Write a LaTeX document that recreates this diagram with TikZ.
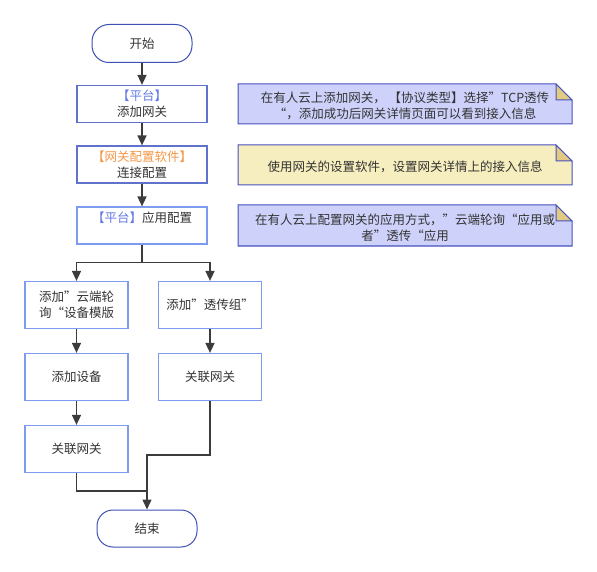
\documentclass[tikz,border=0pt]{standalone}
\usepackage{fontspec}
\setmainfont{Noto Sans CJK SC}
\usepackage{xcolor}
\usepackage{tikz}
\usetikzlibrary{arrows.meta, positioning, calc}

\definecolor{textgray}{RGB}{51,51,51}
\definecolor{linegray}{RGB}{60,60,60}
\definecolor{termblue}{RGB}{60,80,180}
\definecolor{boxblue}{RGB}{95,115,205}
\definecolor{lightblue}{RGB}{125,155,240}
\definecolor{tagblue}{RGB}{100,120,230}
\definecolor{tagorange}{RGB}{245,150,70}
\definecolor{noteline}{RGB}{70,80,190}
\definecolor{notelilac}{RGB}{206,210,250}
\definecolor{noteyellow}{RGB}{246,238,190}
\definecolor{notefold}{RGB}{226,202,130}

\tikzset{
    terminal/.style={draw=termblue, line width=1pt, rounded corners=17pt,
        minimum width=100pt, minimum height=38pt, text=textgray},
    procbox/.style={draw=boxblue, line width=1.2pt, minimum width=130pt,
        minimum height=37pt, align=center, text=textgray, inner sep=2pt},
    subbox/.style={procbox, draw=lightblue, minimum width=103pt, minimum height=47pt},
    flow/.style={draw=linegray, line width=1.5pt, -{Triangle[width=9pt,length=10pt]}},
    link/.style={draw=linegray, line width=1.5pt},
    notecard/.style={draw=noteline, line width=1pt},
    notetext/.style={align=center, text=textgray}
}

\begin{document}
\begin{tikzpicture}[x=1pt, y=-1pt, font=\fontsize{12.5}{16}\selectfont]
    \useasboundingbox (0,0) rectangle (597,572);

    % Main column
    \node[terminal] (start) at (142,43.5) {开始};
    \node[procbox] (addgw) at (142,104) {\textcolor{tagblue}{【平台】}\\添加网关};
    \node[procbox] (connect) at (142,164.5) {\textcolor{tagorange}{【网关配置软件】}\\连接配置};
    \node[procbox, draw=lightblue] (appcfg) at (142,225.5) {\textcolor{tagblue}{【平台】}应用配置\\~};

    % Two branches
    \node[subbox] (tmpl) at (76.5,305) {添加”云端轮\\询“设备模版};
    \node[subbox] (adddev) at (76.5,377) {添加设备};
    \node[subbox] (bindl) at (76.5,449) {关联网关};
    \node[subbox] (group) at (210,305) {添加”透传组”};
    \node[subbox] (bindr) at (210,377) {关联网关};

    \node[terminal, rounded corners=16pt, minimum height=37pt] (finish) at (147,528.5) {结束};

    % Connectors
    \draw[flow] (start) -- (addgw);
    \draw[flow] (addgw) -- (connect);
    \draw[flow] (connect) -- (appcfg);

    \coordinate (fork) at (142,262.5);
    \draw[link] (appcfg) -- (fork);
    \draw[flow] (fork) -| (tmpl);
    \draw[flow] (fork) -| (group);
    \draw[flow] (tmpl) -- (adddev);
    \draw[flow] (adddev) -- (bindl);
    \draw[flow] (group) -- (bindr);

    \coordinate (merge) at (147,455);
    \coordinate (join) at (147,491);
    \draw[link] (bindl) |- (join);
    \draw[flow] (bindr) |- (merge) -- (finish);

    % Notes
    \draw[notecard, fill=notelilac] (238,84) -- (556,84) -- (572,100) -- (572,124) -- (238,124) -- cycle;
    \draw[notecard, fill=notefold] (556,84) -- (556,100) -- (572,100) -- cycle;
    \node[notetext] (note1) at (405,106) {在有人云上添加网关，\ 【协议类型】选择”TCP透传\\“，添加成功后网关详情页面可以看到接入信息};

    \draw[notecard, fill=noteyellow] (238,145) -- (556,145) -- (572,161) -- (572,185) -- (238,185) -- cycle;
    \draw[notecard, fill=notefold] (556,145) -- (556,161) -- (572,161) -- cycle;
    \node[notetext] (note2) at (405,166.5) {使用网关的设置软件，设置网关详情上的接入信息};

    \draw[notecard, fill=notelilac] (238,205) -- (556,205) -- (572,221) -- (572,246) -- (238,246) -- cycle;
    \draw[notecard, fill=notefold] (556,205) -- (556,221) -- (572,221) -- cycle;
    \node[notetext] (note3) at (405,227.5) {在有人云上配置网关的应用方式，”云端轮询“应用或\\者”透传“应用};
\end{tikzpicture}
\end{document}
